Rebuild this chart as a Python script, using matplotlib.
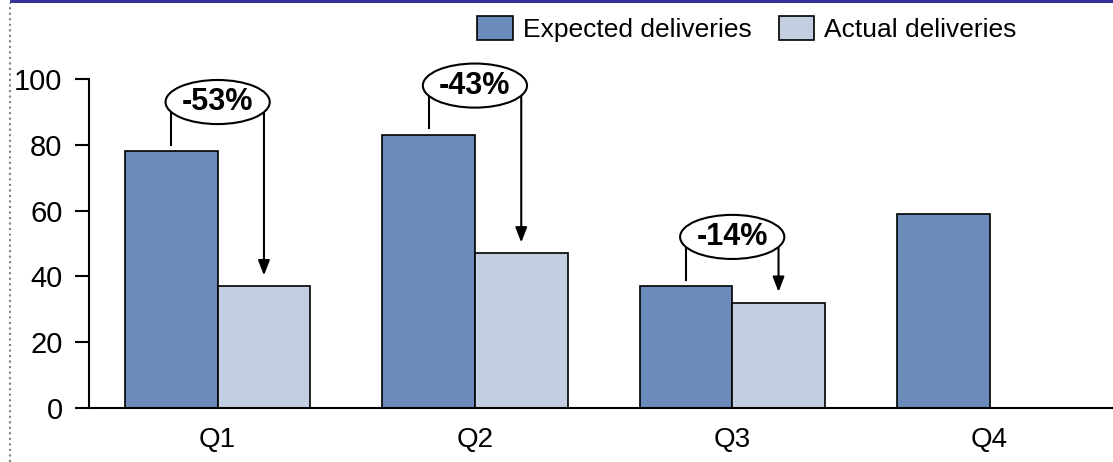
import matplotlib.pyplot as plt
from matplotlib.patches import Ellipse, Patch, Rectangle
from matplotlib.lines import Line2D
import numpy as np

plt.rcParams['font.family'] = ['Liberation Sans', 'DejaVu Sans']

# data
quarters = ["Q1", "Q2", "Q3", "Q4"]
expected = [78, 83, 37, 59]
actual = [37, 47, 32, None]
changes = ["-53%", "-43%", "-14%", None]

colorExpected = "#6B8CBA"
colorActual = "#C4CEE1"

W, H = 1113, 462
fig = plt.figure(figsize=(W / 100, H / 100), dpi=100)
ax = fig.add_axes([89 / W, 54 / H, (W - 89) / W, 329 / H])

x = np.arange(len(quarters))
barWidth = 0.36
actualVals = [v if v is not None else 0 for v in actual]
ax.bar(x - barWidth / 2, expected, barWidth, color=colorExpected,
       edgecolor="black", linewidth=1.2, zorder=2)
ax.bar(x[:3] + barWidth / 2, actualVals[:3], barWidth, color=colorActual,
       edgecolor="black", linewidth=1.2, zorder=2)

# change callouts: bracket from expected bar, arrow down to actual bar
for i, label in enumerate(changes):
    if label is None:
        continue
    top = max(expected[i], actual[i]) + 15
    xl = x[i] - barWidth / 2
    xr = x[i] + barWidth / 2
    ax.plot([xl, xl], [expected[i] + 2, top], color="black", lw=1.5, zorder=3)
    ax.annotate("", xy=(xr, actual[i] + 3.3), xytext=(xr, top),
                arrowprops=dict(arrowstyle="-|>,head_width=0.35,head_length=0.9",
                                color="black", lw=1.5, shrinkA=0, shrinkB=0),
                zorder=3)
    ax.add_patch(Ellipse((x[i], top), 0.405, 13.4, facecolor="white",
                         edgecolor="black", lw=1.5, zorder=4, clip_on=False))
    ax.text(x[i], top, label, ha="center", va="center", fontsize=22,
            fontweight="bold", zorder=5)

ax.set_xlim(-0.5, 3.48)
ax.set_ylim(0, 100)
ax.set_yticks([0, 20, 40, 60, 80, 100])
ax.set_xticks(x)
ax.set_xticklabels(quarters)
ax.tick_params(axis="y", direction="out", length=10, width=1.5, labelsize=21, pad=9)
ax.tick_params(axis="x", length=0, labelsize=20, pad=14)
for side in ["top", "right"]:
    ax.spines[side].set_visible(False)
ax.spines["left"].set_linewidth(1.5)
ax.spines["bottom"].set_linewidth(1.5)

# frame decorations: blue band on top, dotted line on the left
fig.add_artist(Rectangle((10 / W, 1 - 3 / H), 1, 3 / H, transform=fig.transFigure,
                         facecolor="#333399", edgecolor="none"))
fig.add_artist(Line2D([10 / W, 10 / W], [0, 1 - 3 / H], transform=fig.transFigure,
                      color="gray", linestyle=":", lw=1.5))

handles = [Patch(facecolor=colorExpected, edgecolor="black", lw=1.2, label="Expected deliveries"),
           Patch(facecolor=colorActual, edgecolor="black", lw=1.2, label="Actual deliveries")]
fig.legend(handles=handles, loc="center right", bbox_to_anchor=(1030 / W, 1 - 29 / H),
           ncol=2, frameon=False, fontsize=19, handlelength=1.36, handleheight=1.02,
           handletextpad=0.38, columnspacing=1.0, borderpad=0)

fig.savefig("out.png", dpi=100)
